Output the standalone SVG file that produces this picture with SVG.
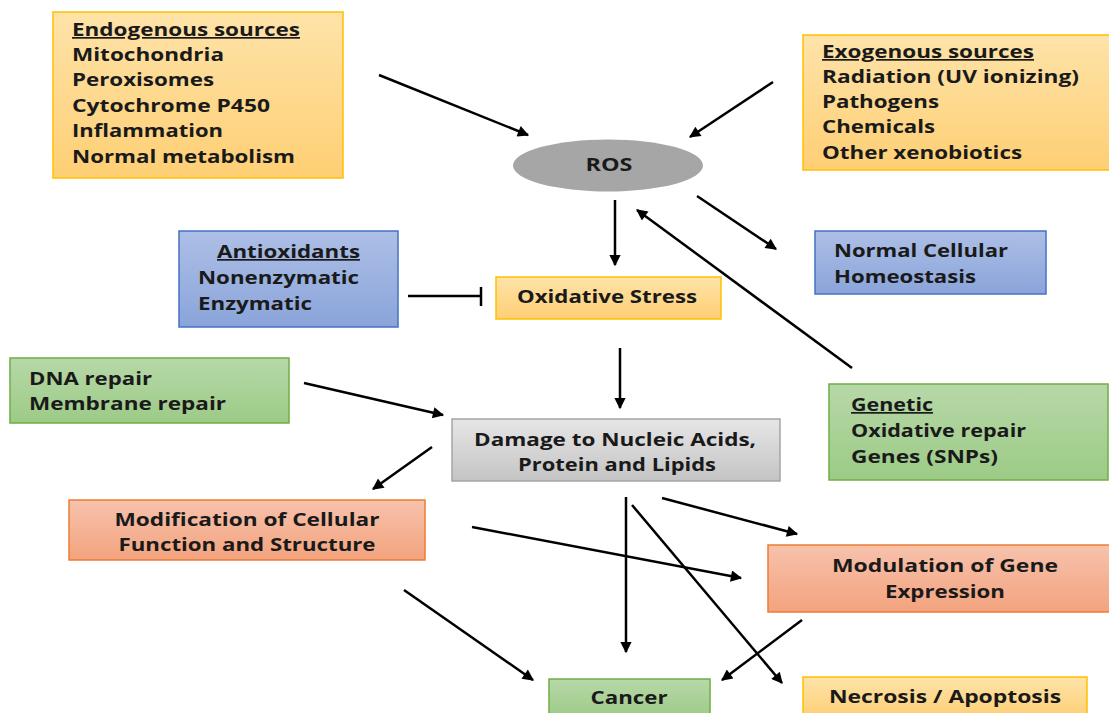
<svg xmlns="http://www.w3.org/2000/svg" width="1109" height="713" viewBox="0 0 1109 713">
<style>
text{font-family:"Open Sans","Liberation Sans",sans-serif;font-weight:bold;font-size:17px;fill:#1a1a1a}
.c{text-anchor:middle}
.u{text-decoration:underline}
.ln{stroke:#000;stroke-width:2.5;fill:none}
</style>
<defs>
<linearGradient id="gO" x1="0" y1="0" x2="0" y2="1"><stop offset="0" stop-color="#fee3a9"/><stop offset="1" stop-color="#fecf74"/></linearGradient>
<linearGradient id="gB" x1="0" y1="0" x2="0" y2="1"><stop offset="0" stop-color="#adbfe6"/><stop offset="1" stop-color="#8aa4da"/></linearGradient>
<linearGradient id="gG" x1="0" y1="0" x2="0" y2="1"><stop offset="0" stop-color="#b7d8a8"/><stop offset="1" stop-color="#9ccb86"/></linearGradient>
<linearGradient id="gS" x1="0" y1="0" x2="0" y2="1"><stop offset="0" stop-color="#f7c2ac"/><stop offset="1" stop-color="#f3a37e"/></linearGradient>
<linearGradient id="gR" x1="0" y1="0" x2="0" y2="1"><stop offset="0" stop-color="#e6e6e6"/><stop offset="1" stop-color="#c4c4c4"/></linearGradient>
<marker id="ah" viewBox="0 0 10 10" refX="9" refY="5" markerWidth="5.5" markerHeight="4.5" orient="auto" markerUnits="strokeWidth"><path d="M0,0 L10,5 L0,10 z" fill="#000"/></marker>
</defs>

<g id="endogenous">
<rect x="53" y="12" width="290" height="166" fill="url(#gO)" stroke="#ffc000" stroke-width="1.5"/>
<text x="72" y="36" class="u" textLength="228" lengthAdjust="spacingAndGlyphs">Endogenous sources</text>
<text x="72" y="61" textLength="152" lengthAdjust="spacingAndGlyphs">Mitochondria</text>
<text x="72" y="86" textLength="142" lengthAdjust="spacingAndGlyphs">Peroxisomes</text>
<text x="72" y="112" textLength="198" lengthAdjust="spacingAndGlyphs">Cytochrome P450</text>
<text x="72" y="137" textLength="151" lengthAdjust="spacingAndGlyphs">Inflammation</text>
<text x="72" y="163" textLength="223" lengthAdjust="spacingAndGlyphs">Normal metabolism</text>
</g>

<g id="exogenous">
<rect x="803" y="35" width="310" height="135" fill="url(#gO)" stroke="#ffc000" stroke-width="1.5"/>
<text x="822" y="58" class="u" textLength="212" lengthAdjust="spacingAndGlyphs">Exogenous sources</text>
<text x="822" y="83" textLength="257" lengthAdjust="spacingAndGlyphs">Radiation (UV ionizing)</text>
<text x="822" y="108" textLength="117" lengthAdjust="spacingAndGlyphs">Pathogens</text>
<text x="822" y="133" textLength="113" lengthAdjust="spacingAndGlyphs">Chemicals</text>
<text x="822" y="159" textLength="200" lengthAdjust="spacingAndGlyphs">Other xenobiotics</text>
</g>

<g id="ros">
<ellipse cx="608" cy="165.5" rx="95" ry="26" fill="#a6a6a6"/>
<text x="609" y="171" class="c" textLength="47" lengthAdjust="spacingAndGlyphs">ROS</text>
</g>

<g id="antioxidants">
<rect x="179" y="231" width="219" height="96" fill="url(#gB)" stroke="#4472c4" stroke-width="1.5"/>
<text x="217" y="258" class="u" textLength="143" lengthAdjust="spacingAndGlyphs">Antioxidants</text>
<text x="198" y="284" textLength="161" lengthAdjust="spacingAndGlyphs">Nonenzymatic</text>
<text x="198" y="310" textLength="114" lengthAdjust="spacingAndGlyphs">Enzymatic</text>
</g>

<g id="oxidative-stress">
<rect x="496" y="277" width="225" height="42" fill="url(#gO)" stroke="#ffc000" stroke-width="1.5"/>
<text x="607" y="303" class="c" textLength="180" lengthAdjust="spacingAndGlyphs">Oxidative Stress</text>
</g>

<g id="homeostasis">
<rect x="815" y="231" width="231" height="63" fill="url(#gB)" stroke="#4472c4" stroke-width="1.5"/>
<text x="834" y="257" textLength="174" lengthAdjust="spacingAndGlyphs">Normal Cellular</text>
<text x="834" y="283" textLength="142" lengthAdjust="spacingAndGlyphs">Homeostasis</text>
</g>

<g id="repair">
<rect x="10" y="358" width="279" height="65" fill="url(#gG)" stroke="#70ad47" stroke-width="1.5"/>
<text x="29" y="385" textLength="123" lengthAdjust="spacingAndGlyphs">DNA repair</text>
<text x="29" y="410" textLength="197" lengthAdjust="spacingAndGlyphs">Membrane repair</text>
</g>

<g id="damage">
<rect x="452" y="419" width="328" height="62" fill="url(#gR)" stroke="#a5a5a5" stroke-width="1.5"/>
<text x="615" y="446" class="c" textLength="282" lengthAdjust="spacingAndGlyphs">Damage to Nucleic Acids,</text>
<text x="617" y="471" class="c" textLength="198" lengthAdjust="spacingAndGlyphs">Protein and Lipids</text>
</g>

<g id="genetic">
<rect x="829" y="384" width="279" height="96" fill="url(#gG)" stroke="#70ad47" stroke-width="1.5"/>
<text x="851" y="411" class="u" textLength="82" lengthAdjust="spacingAndGlyphs">Genetic</text>
<text x="851" y="437" textLength="175" lengthAdjust="spacingAndGlyphs">Oxidative repair</text>
<text x="851" y="463" textLength="147" lengthAdjust="spacingAndGlyphs">Genes (SNPs)</text>
</g>

<g id="modification">
<rect x="69" y="500" width="356" height="60" fill="url(#gS)" stroke="#ed7d31" stroke-width="1.5"/>
<text x="247" y="526" class="c" textLength="265" lengthAdjust="spacingAndGlyphs">Modification of Cellular</text>
<text x="247" y="551" class="c" textLength="257" lengthAdjust="spacingAndGlyphs">Function and Structure</text>
</g>

<g id="modulation">
<rect x="768" y="545" width="345" height="67" fill="url(#gS)" stroke="#ed7d31" stroke-width="1.5"/>
<text x="945" y="572" class="c" textLength="226" lengthAdjust="spacingAndGlyphs">Modulation of Gene</text>
<text x="945" y="598" class="c" textLength="120" lengthAdjust="spacingAndGlyphs">Expression</text>
</g>

<g id="cancer">
<rect x="549" y="679" width="161" height="40" fill="url(#gG)" stroke="#70ad47" stroke-width="1.5"/>
<text x="629" y="704" class="c" textLength="77" lengthAdjust="spacingAndGlyphs">Cancer</text>
</g>

<g id="necrosis">
<rect x="803" y="677" width="284" height="42" fill="url(#gO)" stroke="#ffc000" stroke-width="1.5"/>
<text x="945" y="703" class="c" textLength="232" lengthAdjust="spacingAndGlyphs">Necrosis / Apoptosis</text>
</g>

<g id="connectors" class="ln">
<line x1="379" y1="75" x2="528" y2="135" marker-end="url(#ah)"/>
<line x1="773" y1="82" x2="690" y2="137" marker-end="url(#ah)"/>
<line x1="615" y1="200" x2="615" y2="265" marker-end="url(#ah)"/>
<line x1="697" y1="196" x2="776" y2="249" marker-end="url(#ah)"/>
<line x1="852" y1="368" x2="637" y2="210" marker-end="url(#ah)"/>
<line x1="408" y1="296" x2="481" y2="296"/>
<line x1="481" y1="287" x2="481" y2="306"/>
<line x1="620" y1="348" x2="620" y2="408" marker-end="url(#ah)"/>
<line x1="304" y1="383" x2="443" y2="415" marker-end="url(#ah)"/>
<line x1="432" y1="447" x2="373" y2="489" marker-end="url(#ah)"/>
<line x1="472" y1="527" x2="741" y2="578" marker-end="url(#ah)"/>
<line x1="626" y1="497" x2="626" y2="652" marker-end="url(#ah)"/>
<line x1="632" y1="505" x2="782" y2="683" marker-end="url(#ah)"/>
<line x1="662" y1="498" x2="797" y2="534" marker-end="url(#ah)"/>
<line x1="802" y1="620" x2="722" y2="680" marker-end="url(#ah)"/>
<line x1="404" y1="590" x2="533" y2="680" marker-end="url(#ah)"/>
</g>
</svg>
